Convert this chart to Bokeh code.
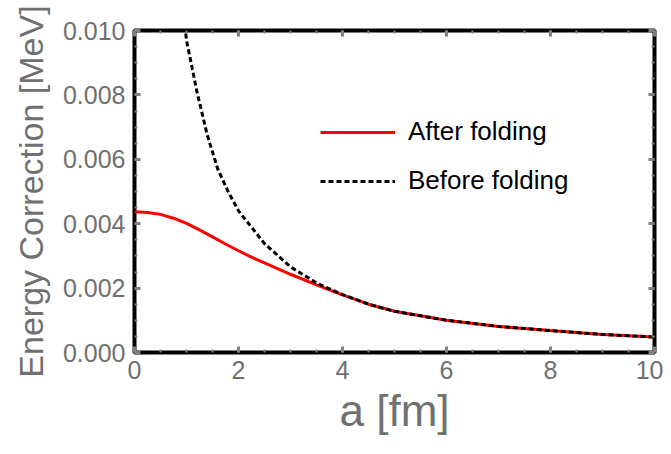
from bokeh.plotting import figure
from bokeh.models import Range1d, LinearAxis, Legend, LegendItem, FixedTicker
from bokeh.embed import file_html
from bokeh.resources import INLINE

# ---- data ----
a_after = [0.0, 0.25, 0.5, 0.75, 1.0, 1.25, 1.5, 1.75, 2.0, 2.25, 2.5, 3.0, 3.5, 4.0, 4.5, 5.0, 6.0, 7.0, 8.0, 9.0, 10.0]
e_after = [0.00437, 0.00435, 0.00429, 0.00417, 0.00401, 0.00381, 0.00359, 0.00337, 0.00316, 0.00296, 0.00278,
           0.00243, 0.00210, 0.00179, 0.00150, 0.00128, 0.00100, 0.00081, 0.00068, 0.00056, 0.00048]

a_before = [0.95, 1.0, 1.2, 1.4, 1.6, 1.8, 2.0, 2.5, 3.0, 3.5, 4.0, 4.5, 5.0, 6.0, 7.0, 8.0, 9.0, 10.0]
e_before = [0.0104, 0.0097, 0.0081, 0.00675, 0.0057, 0.0050, 0.0044, 0.00338, 0.00266, 0.00216, 0.00180,
            0.00150, 0.00128, 0.00100, 0.00081, 0.00068, 0.00056, 0.00048]

x_ticks = [0, 2, 4, 6, 8, 10]
y_ticks = [0.000, 0.002, 0.004, 0.006, 0.008, 0.010]
y_tick_labels = {t: f"{t:.3f}" for t in y_ticks}

labels = ["After folding", "Before folding"]

FONT = "Liberation Sans"
GRAY = "#707070"
TICKGRAY = "#808080"

p = figure(frame_width=520, frame_height=322,
           x_range=Range1d(0, 10), y_range=Range1d(0, 0.010),
           output_backend="svg", toolbar_location=None,
           min_border_left=134, min_border_top=30, min_border_right=9, min_border_bottom=92)
p.grid.visible = False
p.outline_line_color = "black"
p.outline_line_width = 4
p.background_fill_color = "white"
p.border_fill_color = "white"

def style_axis(ax, show_labels, ticks=None):
    ax.axis_line_alpha = 0
    ax.major_tick_in = 6
    ax.major_tick_out = 0
    ax.minor_tick_in = 3
    ax.minor_tick_out = 0
    ax.major_tick_line_color = TICKGRAY
    ax.minor_tick_line_color = TICKGRAY
    ax.major_tick_line_width = 3
    ax.minor_tick_line_width = 2
    if show_labels:
        ax.major_label_text_font = FONT
        ax.major_label_text_font_size = "25px"
        ax.major_label_text_color = GRAY
        ax.axis_label_text_font = FONT
        ax.axis_label_text_color = GRAY
        ax.axis_label_text_font_style = "normal"
    else:
        ax.major_label_overrides = {t: "" for t in ticks}
        ax.major_label_standoff = 0

xax = p.xaxis[0]
yax = p.yaxis[0]
xax.ticker = FixedTicker(ticks=x_ticks, minor_ticks=[i * 0.5 for i in range(21)])
yax.ticker = FixedTicker(ticks=y_ticks, minor_ticks=[i * 0.0005 for i in range(21)])
yax.major_label_overrides = y_tick_labels
style_axis(xax, True)
style_axis(yax, True)
xax.axis_label = "a [fm]"
xax.axis_label_text_font_size = "44px"
xax.major_label_standoff = 8
xax.axis_label_standoff = 4
yax.axis_label = "Energy Correction [MeV]"
yax.axis_label_text_font_size = "34px"
yax.major_label_standoff = 9
yax.axis_label_standoff = 10

top = LinearAxis(ticker=FixedTicker(ticks=x_ticks, minor_ticks=[i * 0.5 for i in range(21)]))
right = LinearAxis(ticker=FixedTicker(ticks=y_ticks, minor_ticks=[i * 0.0005 for i in range(21)]))
style_axis(top, False, x_ticks)
style_axis(right, False, y_ticks)
p.add_layout(top, "above")
p.add_layout(right, "right")

r_after = p.line(a_after, e_after, line_color="#ff0000", line_width=3)
r_before = p.line(a_before, e_before, line_color="black", line_width=3, line_dash="5 3")

legend = Legend(items=[LegendItem(label=labels[0], renderers=[r_after]),
                       LegendItem(label=labels[1], renderers=[r_before])],
                location=(186, 156), orientation="vertical",
                glyph_width=75, glyph_height=30, label_height=30, spacing=18,
                label_standoff=13, padding=0, margin=0,
                label_text_font=FONT, label_text_font_size="26px", label_text_color="black",
                border_line_alpha=0, background_fill_alpha=0)
p.add_layout(legend, "center")

open("out.html", "w").write(file_html(p, INLINE))
